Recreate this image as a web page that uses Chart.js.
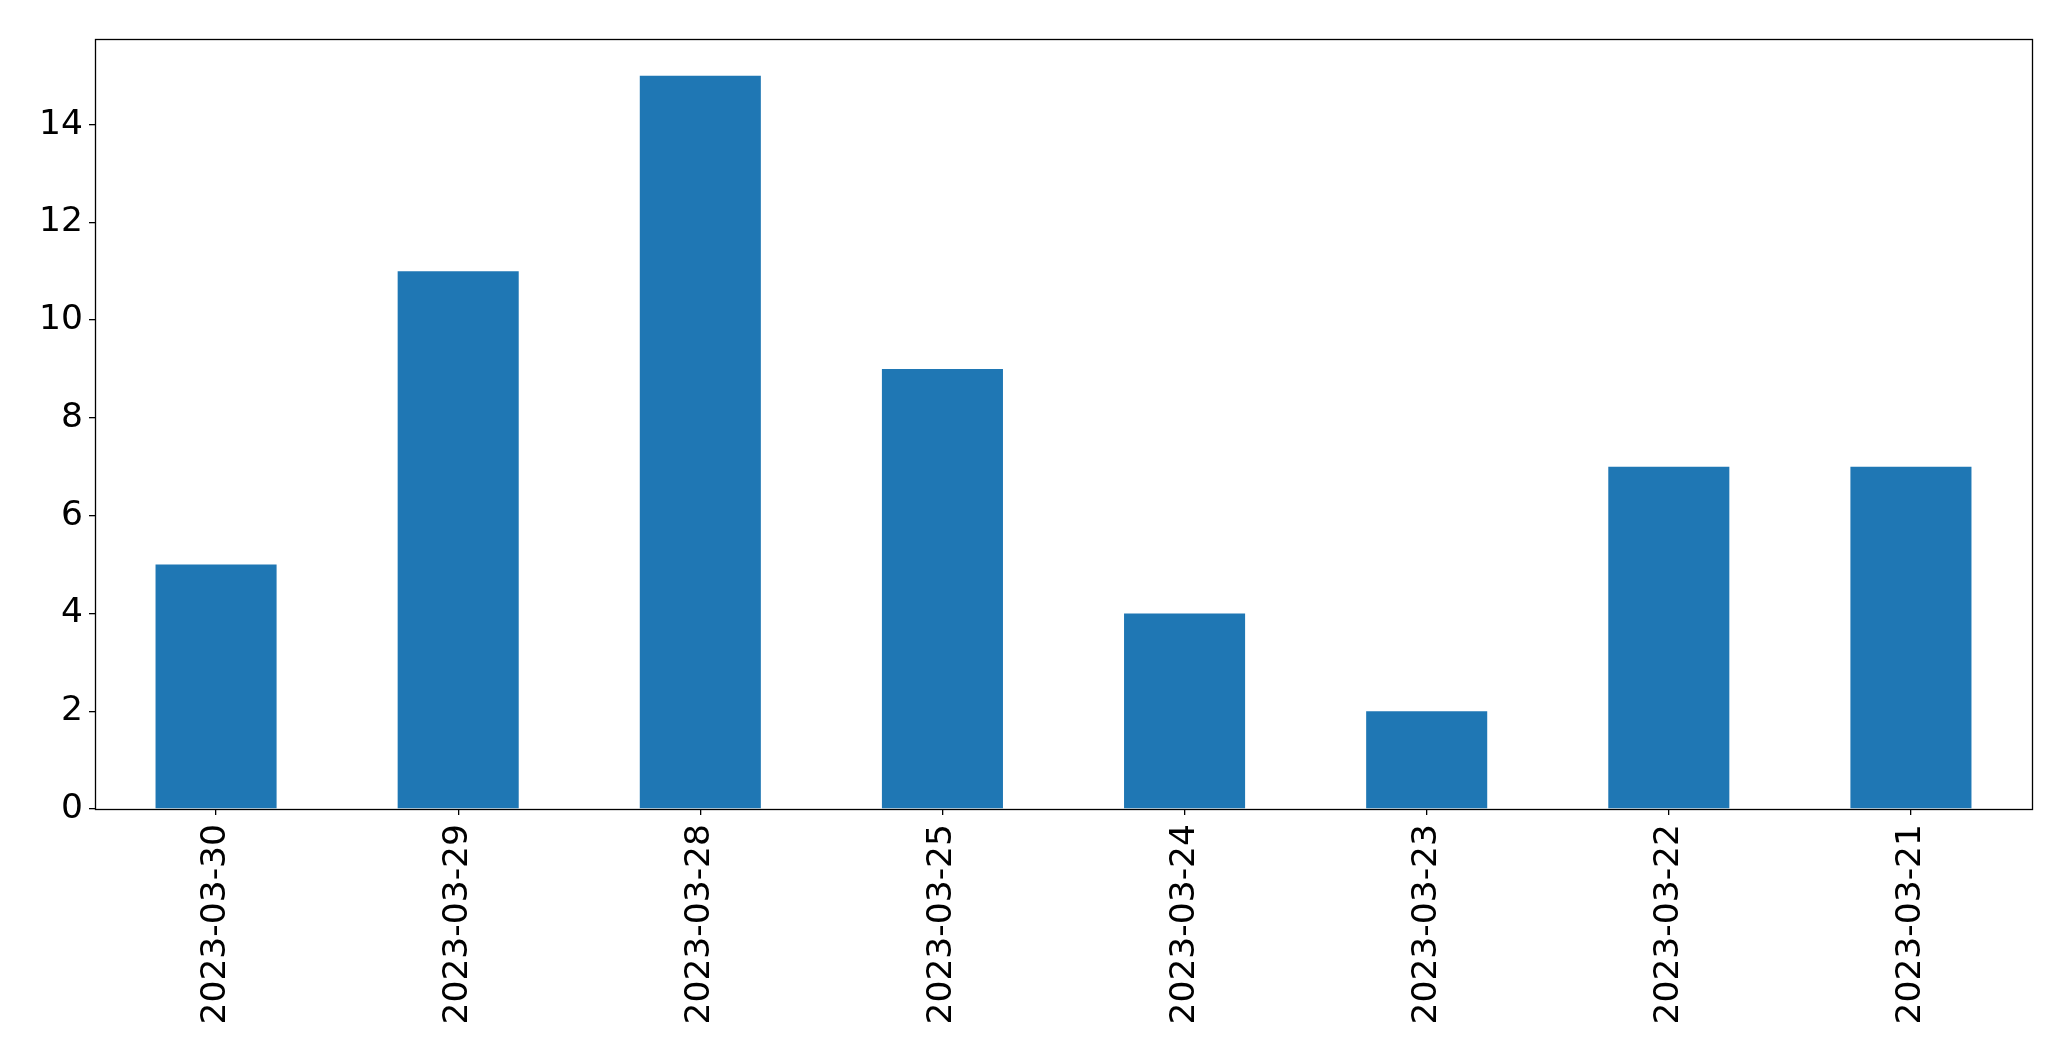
<!DOCTYPE html>
<html>
<head>
<meta charset="utf-8">
<script src="https://cdn.jsdelivr.net/npm/chart.js@4/dist/chart.umd.min.js"></script>
<style>
  html, body { margin: 0; padding: 0; background: #fff; }
  #wrap { width: 2071px; height: 1061px; }
</style>
</head>
<body>
<div id="wrap"><canvas id="c" width="2071" height="1061"></canvas></div>
<script>
const categories = ["2023-03-30", "2023-03-29", "2023-03-28", "2023-03-25", "2023-03-24", "2023-03-23", "2023-03-22", "2023-03-21"];
const counts = [5, 11, 15, 9, 4, 2, 7, 7];
const yTicks = [0, 2, 4, 6, 8, 10, 12, 14];

const frame = {
  id: 'frame',
  afterDraw(chart) {
    const a = chart.chartArea, ctx = chart.ctx;
    ctx.save();
    ctx.strokeStyle = '#000';
    ctx.lineWidth = 1.3;
    ctx.strokeRect(Math.round(a.left) + 0.5, Math.round(a.top) + 0.5, Math.round(a.right - a.left), Math.round(a.bottom - a.top));
    ctx.restore();
  }
};

new Chart(document.getElementById('c'), {
  type: 'bar',
  data: {
    labels: categories,
    datasets: [{
      data: counts,
      backgroundColor: '#1f77b4',
      borderWidth: 0,
      barPercentage: 0.5,
      categoryPercentage: 1.0
    }]
  },
  options: {
    responsive: false,
    animation: false,
    devicePixelRatio: 1,
    layout: { padding: { top: 39, right: 39, left: 0, bottom: 0 } },
    plugins: { legend: { display: false }, tooltip: { enabled: false } },
    scales: {
      x: {
        grid: { display: true, offset: false, drawOnChartArea: false, drawTicks: true, tickLength: 6, color: '#000', lineWidth: 1.3 },
        border: { display: false },
        ticks: {
          minRotation: 90, maxRotation: 90, autoSkip: false,
          color: '#000', padding: 9,
          font: { family: 'DejaVu Sans', size: 34.5 }
        },
        afterFit(scale) { scale.height = 1061 - 809; }
      },
      y: {
        min: 0, max: 15.75,
        grid: { display: true, drawOnChartArea: false, drawTicks: true, tickLength: 6, color: '#000', lineWidth: 1.3 },
        border: { display: false },
        afterBuildTicks(scale) { scale.ticks = yTicks.map(v => ({ value: v })); },
        ticks: {
          color: '#000', padding: 6,
          font: { family: 'DejaVu Sans', size: 34.5 }
        },
        afterFit(scale) { scale.width = 95; }
      }
    }
  },
  plugins: [frame]
});
</script>
</body>
</html>
